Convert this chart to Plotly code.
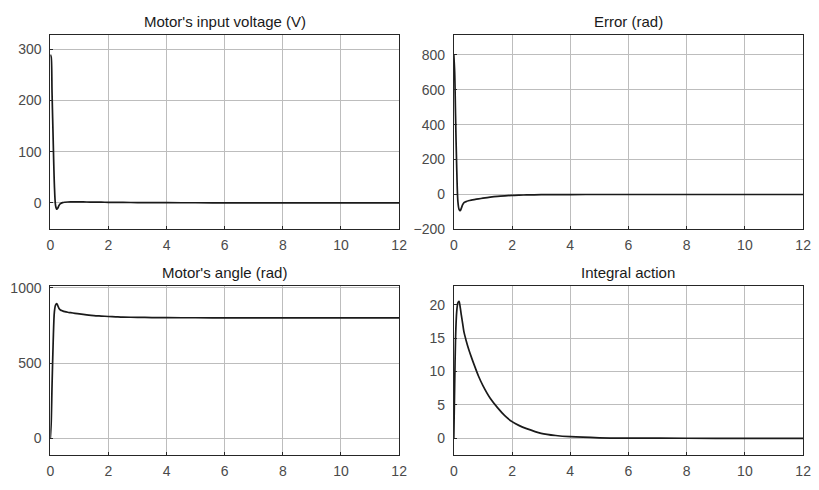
import plotly.graph_objects as go

# ---- data ----
t = [0, 0.03, 0.06, 0.1, 0.14, 0.18, 0.22, 0.26, 0.3, 0.35, 0.42, 0.5, 0.6, 0.7, 0.85,
     1.0, 1.25, 1.5, 1.75, 2.0, 2.25, 2.5, 3.0, 3.5, 4.0, 5.0, 6.0, 8.0, 10.0, 12.0]

voltage = [290, 285, 215, 120, 35, -5, -12.5, -10, -5, -1.5, 0.5, 1.2, 1.6, 1.8, 1.8,
           1.8, 1.6, 1.4, 1.25, 1.1, 0.95, 0.8, 0.6, 0.4, 0.3, 0.15, 0.08, 0.02, 0, 0]

error = [800, 700, 450, 150, -40, -85, -93, -78, -60, -47, -41, -36, -32, -29, -25,
         -21, -15, -10.5, -7.5, -5, -3.6, -2.5, -1.2, -0.7, -0.4, -0.1, 0, 0, 0, 0]

angle = [0, 100, 350, 650, 840, 885, 895, 880, 862, 852, 846, 841, 837, 834, 830,
         826, 820, 815, 812, 809, 807, 805, 803, 802, 801, 800.5, 800, 800, 800, 800]

integral = [0, 8, 15, 19.0, 20.3, 20.5, 19.6, 18.4, 17.3, 15.9, 14.7, 13.5, 12.2, 11.0, 9.3,
            7.9, 6.0, 4.6, 3.4, 2.5, 1.9, 1.45, 0.75, 0.42, 0.24, 0.08, 0.03, 0.01, 0, 0]

titles = ["Motor's input voltage (V)", "Error (rad)", "Motor's angle (rad)", "Integral action"]
x_ticks = [0, 2, 4, 6, 8, 10, 12]
y_ticks = [[0, 100, 200, 300],
           [-200, 0, 200, 400, 600, 800],
           [0, 500, 1000],
           [0, 5, 10, 15, 20]]
y_ranges = [[-52, 328], [-200, 912], [-114, 1011], [-2.57, 22.8]]

series = [voltage, error, angle, integral]

W, H = 819, 490
x_doms = [[47 / W, 401 / W], [456.5 / W, 811 / W]]
y_doms = [[1 - 230 / H, 1 - 30 / H], [1 - 462.7 / H, 1 - 288.3 / H]]

fig = go.Figure()
font_fam = "Liberation Sans, Arial, Helvetica, sans-serif"
grid_col = "#bdbdbd"
line_col = "#262626"

annotations = []
for i in range(4):
    r, c = divmod(i, 2)
    xa = "x" if i == 0 else f"x{i+1}"
    ya = "y" if i == 0 else f"y{i+1}"
    fig.add_trace(go.Scatter(x=t, y=series[i], mode="lines",
                             line=dict(color="#1a1a1a", width=1.7, shape="spline", smoothing=0.8),
                             xaxis=xa, yaxis=ya, showlegend=False))
    ax_common = dict(showline=True, mirror=True, linecolor=line_col, linewidth=1,
                     showgrid=True, gridcolor=grid_col, gridwidth=1, zeroline=False,
                     ticks="inside", ticklen=3, tickcolor=line_col,
                     tickfont=dict(family=font_fam, size=14, color="#4a4a4a"))
    fig.layout[("xaxis" if i == 0 else f"xaxis{i+1}")] = dict(
        domain=x_doms[c], range=[0, 12], tickvals=x_ticks, anchor=ya,
        ticklabelstandoff=3, **ax_common)
    fig.layout[("yaxis" if i == 0 else f"yaxis{i+1}")] = dict(
        domain=y_doms[r], range=y_ranges[i], tickvals=y_ticks[i], anchor=xa,
        ticklabelstandoff=5, **ax_common)
    annotations.append(dict(text=titles[i], xref="paper", yref="paper",
                            x=(x_doms[c][0] + x_doms[c][1]) / 2, y=y_doms[r][1],
                            xanchor="center", yanchor="bottom", yshift=3, showarrow=False,
                            font=dict(family=font_fam, size=15, color="#1a1a1a")))

fig.update_layout(width=W, height=H, margin=dict(l=0, r=0, t=0, b=0),
                  paper_bgcolor="white", plot_bgcolor="white",
                  annotations=annotations)

fig.write_html("out.html")
